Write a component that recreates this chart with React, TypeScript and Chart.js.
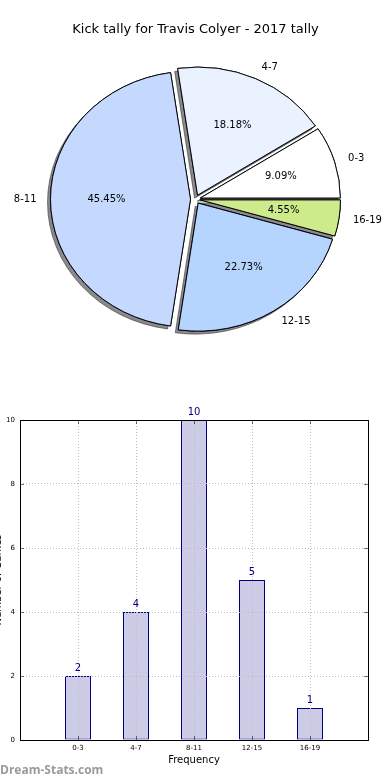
import React, { useEffect, useRef } from 'react';
import { Chart, registerables } from 'chart.js';

Chart.register(...registerables);

const FONT = "'DejaVu Sans', 'Liberation Sans', sans-serif";
Chart.defaults.font.family = FONT;

// ---- data ----
const chartTitle = 'Kick tally for Travis Colyer - 2017 tally';
const categories = ['0-3', '4-7', '8-11', '12-15', '16-19'];
const counts = [2, 4, 10, 5, 1];
const pieColors = ['#ffffff', '#ebf2ff', '#c5d9ff', '#b5d5ff', '#ceeb8b'];
const yTickStep = 2;
const yMax = 10;
const xAxisTitle = 'Frequency';
const yAxisTitle = 'Number of Games';
const watermark = 'Dream-Stats.com';

// matplotlib draws wedges counter-clockwise from 3 o'clock; Chart.js goes clockwise,
// so the pie uses reversed copies of the arrays
const pieLabels = [...categories].reverse();
const pieValues = [...counts].reverse();
const pieBg = [...pieColors].reverse();
const total = counts.reduce((a, b) => a + b, 0);

const Y_SQUASH = 128 / 140; // matplotlib pie drawn on a non-equal aspect axes
const EXPLODE = 5;

const piePlugin = {
  id: 'mplPie',
  beforeDatasetDraw(chart: any, args: any) {
    const meta = chart.getDatasetMeta(args.index);
    const ctx = chart.ctx as CanvasRenderingContext2D;
    const arcs = meta.data as any[];
    if (!arcs.length) return false;
    const cx = arcs[0].x;
    const cy = arcs[0].y;
    const pass = (shadow: boolean) => {
      arcs.forEach((arc) => {
        ctx.save();
        ctx.translate(cx, cy);
        ctx.scale(1, Y_SQUASH);
        ctx.translate(-cx, -cy);
        const h = (arc.startAngle + arc.endAngle) / 2;
        ctx.translate(Math.cos(h) * EXPLODE, Math.sin(h) * EXPLODE);
        if (shadow) {
          ctx.shadowColor = 'rgba(40,40,50,0.55)';
          ctx.shadowOffsetX = -3;
          ctx.shadowOffsetY = 3;
          ctx.shadowBlur = 0;
        }
        arc.draw(ctx);
        ctx.restore();
      });
    };
    pass(true);
    pass(false);
    return false;
  },
  afterDatasetsDraw(chart: any) {
    const meta = chart.getDatasetMeta(0);
    const ctx = chart.ctx as CanvasRenderingContext2D;
    ctx.save();
    ctx.font = `10px ${FONT}`;
    ctx.fillStyle = '#000';
    ctx.textBaseline = 'middle';
    (meta.data as any[]).forEach((arc, i) => {
      const h = (arc.startAngle + arc.endAngle) / 2;
      const r = arc.outerRadius;
      const c = Math.cos(h);
      const s = Math.sin(h);
      const at = (f: number) => [arc.x + (EXPLODE + f * r) * c, arc.y + (EXPLODE + f * r) * s * Y_SQUASH];
      const [lx, ly] = at(1.1);
      ctx.textAlign = c > 0 ? 'left' : 'right';
      ctx.fillText(pieLabels[i], lx, ly);
      const [tx, ty] = at(0.6);
      ctx.textAlign = 'center';
      ctx.fillText(((pieValues[i] / total) * 100).toFixed(2) + '%', tx, ty);
    });
    ctx.restore();
  },
};

const barPlugin = {
  id: 'mplFrame',
  afterDraw(chart: any) {
    const ctx = chart.ctx as CanvasRenderingContext2D;
    const { left, right, top, bottom } = chart.chartArea;
    const xs = chart.scales.x;
    const ys = chart.scales.y;
    ctx.save();
    // inward tick marks
    ctx.strokeStyle = 'rgba(0,0,0,0.55)';
    ctx.lineWidth = 1;
    ctx.beginPath();
    categories.forEach((_, i) => {
      const px = Math.round(xs.getPixelForValue(i + 1)) + 0.5;
      ctx.moveTo(px, bottom);
      ctx.lineTo(px, bottom - 4);
      ctx.moveTo(px, top);
      ctx.lineTo(px, top + 4);
    });
    for (let v = yTickStep; v < yMax; v += yTickStep) {
      const py = Math.round(ys.getPixelForValue(v)) + 0.5;
      ctx.moveTo(left, py);
      ctx.lineTo(left + 4, py);
      ctx.moveTo(right, py);
      ctx.lineTo(right - 4, py);
    }
    ctx.stroke();
    // frame
    ctx.strokeStyle = '#000';
    ctx.lineWidth = 1;
    ctx.strokeRect(Math.round(left) + 0.5, Math.round(top) + 0.5, Math.round(right - left), Math.round(bottom - top));
    // value labels
    const meta = chart.getDatasetMeta(0);
    ctx.font = `10px ${FONT}`;
    ctx.fillStyle = '#000080';
    ctx.textAlign = 'center';
    ctx.textBaseline = 'alphabetic';
    (meta.data as any[]).forEach((bar, i) => {
      ctx.fillText(String(counts[i]), bar.x, bar.y - 5);
    });
    ctx.restore();
  },
};

export default function App() {
  const pieRef = useRef<HTMLCanvasElement>(null);
  const barRef = useRef<HTMLCanvasElement>(null);

  useEffect(() => {
    const pie = new Chart(pieRef.current as HTMLCanvasElement, {
      type: 'pie',
      data: {
        labels: pieLabels,
        datasets: [
          {
            data: pieValues,
            backgroundColor: pieBg,
            borderColor: '#000',
            borderWidth: 1,
            borderJoinStyle: 'miter',
            radius: 140,
            offset: 0,
            hoverOffset: 0,
          } as any,
        ],
      },
      options: {
        responsive: false,
        animation: false,
        events: [],
        rotation: 90,
        layout: { padding: { left: 1, right: 0, top: 0, bottom: 29 } },
        plugins: {
          legend: { display: false },
          tooltip: { enabled: false },
          title: {
            display: true,
            text: chartTitle,
            color: '#000',
            font: { family: FONT, size: 13, weight: 'normal' },
            padding: { top: 22, bottom: 10 },
          },
        },
      } as any,
      plugins: [piePlugin as any],
    });

    const gridCommon = { color: '#bdbdbd', lineWidth: 1, drawTicks: false, z: 1 };
    const bar = new Chart(barRef.current as HTMLCanvasElement, {
      type: 'bar',
      data: {
        datasets: [
          {
            data: categories.map((_, i) => ({ x: i + 1, y: counts[i] })),
            backgroundColor: '#ccccE6',
            borderColor: '#000080',
            borderWidth: 1,
            borderSkipped: false,
            barThickness: 26,
            inflateAmount: 0,
          } as any,
        ],
      },
      options: {
        responsive: false,
        animation: false,
        events: [],
        layout: { padding: { left: 0, right: 22, top: 40, bottom: 0 } },
        plugins: { legend: { display: false }, tooltip: { enabled: false } },
        scales: {
          x: {
            type: 'linear',
            min: 0,
            max: categories.length + 1,
            offset: false,
            grid: { ...gridCommon, offset: false },
            border: { display: false, dash: [1, 2] },
            ticks: {
              stepSize: 1,
              autoSkip: false,
              padding: 4,
              color: '#000',
              font: { size: 7 },
              callback: (v: any) => {
                const n = Number(v);
                return Number.isInteger(n) && n >= 1 && n <= categories.length ? categories[n - 1] : '';
              },
            },
            title: { display: true, text: xAxisTitle, color: '#000', font: { size: 10 }, padding: { top: 0, bottom: 14 } },
            afterFit: (s: any) => {
              s.height = 40;
            },
          },
          y: {
            min: 0,
            max: yMax,
            grid: { ...gridCommon },
            border: { display: false, dash: [1, 2] },
            ticks: { stepSize: yTickStep, padding: 5, color: '#000', font: { size: 7 } },
            title: { display: true, text: yAxisTitle, color: '#000', font: { size: 10 }, padding: 0 },
            afterFit: (s: any) => {
              s.width = 28;
            },
          },
        },
      } as any,
      plugins: [barPlugin as any],
    });

    return () => {
      pie.destroy();
      bar.destroy();
    };
  }, []);

  return (
    <div style={{ position: 'absolute', left: 0, top: 0, width: 390, height: 780, overflow: 'hidden', background: '#fff' }}>
      <canvas ref={pieRef} width={390} height={380} style={{ position: 'absolute', left: 0, top: 0 }} />
      <canvas ref={barRef} width={398} height={400} style={{ position: 'absolute', left: -8, top: 380 }} />
      <div
        style={{
          position: 'absolute',
          left: 0,
          top: 762,
          fontFamily: "'Open Sans', 'DejaVu Sans', sans-serif",
          fontWeight: 700,
          fontSize: 12,
          lineHeight: '16px',
          color: '#9a9a9a',
          whiteSpace: 'nowrap',
        }}
      >
        {watermark}
      </div>
    </div>
  );
}
